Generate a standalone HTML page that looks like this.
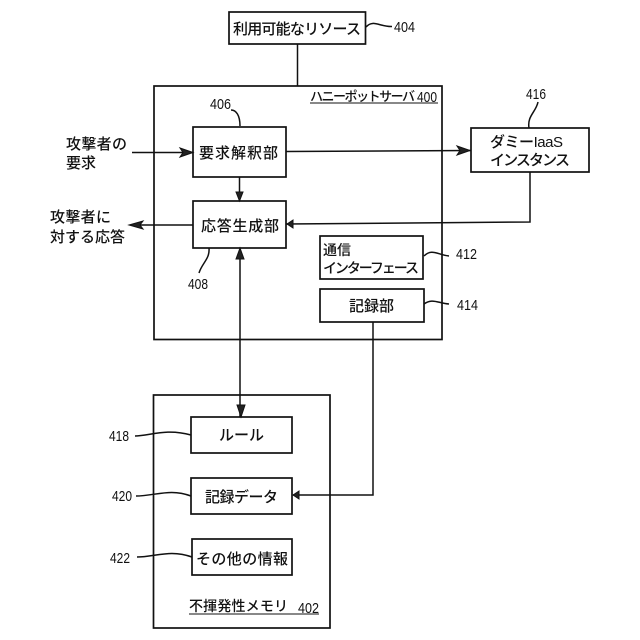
<!DOCTYPE html>
<html><head><meta charset="utf-8"><style>
html,body{margin:0;padding:0;background:#fff}
svg{display:block}
text{font-family:"Liberation Sans","Noto Sans CJK JP",sans-serif;fill:#111;font-size:15px;font-weight:500}
.n{font-size:15px;font-family:"Liberation Sans",sans-serif;font-weight:400}
rect{fill:#fff;stroke:#111;stroke-width:1.7}
.l{fill:none;stroke:#111;stroke-width:1.5}
.a{fill:#222;stroke:#111;stroke-width:1}
</style></head><body>
<svg width="640" height="640" viewBox="0 0 640 640" xmlns="http://www.w3.org/2000/svg">
<rect x="154" y="86" width="288" height="253.500"/>
<rect x="153.500" y="395" width="176.500" height="233"/>
<path class="l" d="M297.500 44V86"/>
<rect x="229" y="12" width="136.500" height="32"/>
<rect x="193" y="127" width="93" height="50"/>
<rect x="193" y="201" width="93" height="47"/>
<rect x="471" y="128" width="118" height="44"/>
<rect x="320" y="236" width="103" height="43"/>
<rect x="320" y="289" width="104" height="33"/>
<rect x="191" y="417" width="101" height="36"/>
<rect x="191" y="478" width="101" height="36"/>
<rect x="192" y="539" width="100" height="36"/>
<path class="l" d="M132 152.500H193"/>
<path class="a" d="M193 152.500L180 148L183 152.500L180 157Z"/>
<path class="l" d="M286 151.500L471 150.500"/>
<path class="a" d="M470 150.500L457 146L460 150.500L457 155Z"/>
<path class="l" d="M239.500 177V201"/>
<path class="a" d="M239.500 201L236 192H243Z"/>
<path class="l" d="M193 225H131"/>
<path class="a" d="M129 225L143 221L140 225L143 229Z"/>
<path class="l" d="M530 172V222L286 224"/>
<path class="a" d="M287 224L293 220V228Z"/>
<path class="l" d="M240 250V417"/>
<path class="a" d="M240 248L236 259H244Z"/>
<path class="a" d="M241 417L237 405H245Z"/>
<path class="l" d="M373 322V495L293 495"/>
<path class="a" d="M293 495L299 491V499Z"/>
<path class="l" d="M366 27C373 19 380 27 392 26.500"/>
<path class="l" d="M231 110C236 110 240 115 240 126"/>
<path class="l" d="M209 248C210 259 202 263 199 273"/>
<path class="l" d="M538 102C536 112 527 116 529 128"/>
<path class="l" d="M424 256C432 248 438 255 449 256"/>
<path class="l" d="M424 304C432 298 438 303 449 304"/>
<path class="l" d="M135 436C150 436 165 428 191 435"/>
<path class="l" d="M136 496C155 496 170 488 191 496"/>
<path class="l" d="M137 557C155 557 170 549 192 557"/>
<text x="233" y="34" font-size="15" textLength="128">利用可能なリソース</text>
<text class="n" x="394" y="32" textLength="21" lengthAdjust="spacingAndGlyphs">404</text>
<text x="310" y="101" style="font-size:13px" textLength="105">ハニーポットサーバ</text>
<text class="n" x="417" y="102" textLength="20" lengthAdjust="spacingAndGlyphs">400</text>
<path class="l" style="stroke-width:1" d="M310 103H438"/>
<text class="n" x="210" y="109" textLength="21" lengthAdjust="spacingAndGlyphs">406</text>
<text x="199" y="158" textLength="79">要求解釈部</text>
<text x="66" y="149" textLength="61">攻撃者の</text>
<text x="66" y="168" textLength="30">要求</text>
<text x="50" y="222" textLength="61">攻撃者に</text>
<text x="50" y="242" textLength="75">対する応答</text>
<text x="201" y="231" textLength="78">応答生成部</text>
<text class="n" x="188" y="289" textLength="20" lengthAdjust="spacingAndGlyphs">408</text>
<text class="n" x="526" y="99" textLength="20" lengthAdjust="spacingAndGlyphs">416</text>
<text x="490" y="147" textLength="73">ダミーIaaS</text>
<text x="490" y="165" textLength="80">インスタンス</text>
<text x="323" y="255" style="font-size:14px" textLength="28">通信</text>
<text x="323" y="273" style="font-size:14px" textLength="96">インターフェース</text>
<text x="349" y="311" textLength="45">記録部</text>
<text class="n" x="456" y="259" textLength="21" lengthAdjust="spacingAndGlyphs">412</text>
<text class="n" x="457" y="310" textLength="21" lengthAdjust="spacingAndGlyphs">414</text>
<text class="n" x="109" y="441" textLength="20" lengthAdjust="spacingAndGlyphs">418</text>
<text class="n" x="112" y="501" textLength="20" lengthAdjust="spacingAndGlyphs">420</text>
<text class="n" x="110" y="563" textLength="20" lengthAdjust="spacingAndGlyphs">422</text>
<text x="219" y="440" textLength="45">ルール</text>
<text x="205" y="502" textLength="73">記録データ</text>
<text x="196" y="564" textLength="92">その他の情報</text>
<text x="189" y="611" style="font-size:14px" textLength="99">不揮発性メモリ</text>
<text class="n" x="298" y="613" textLength="21" lengthAdjust="spacingAndGlyphs">402</text>
<path class="l" style="stroke-width:1" d="M189 614H319"/>
</svg>
</body></html>
